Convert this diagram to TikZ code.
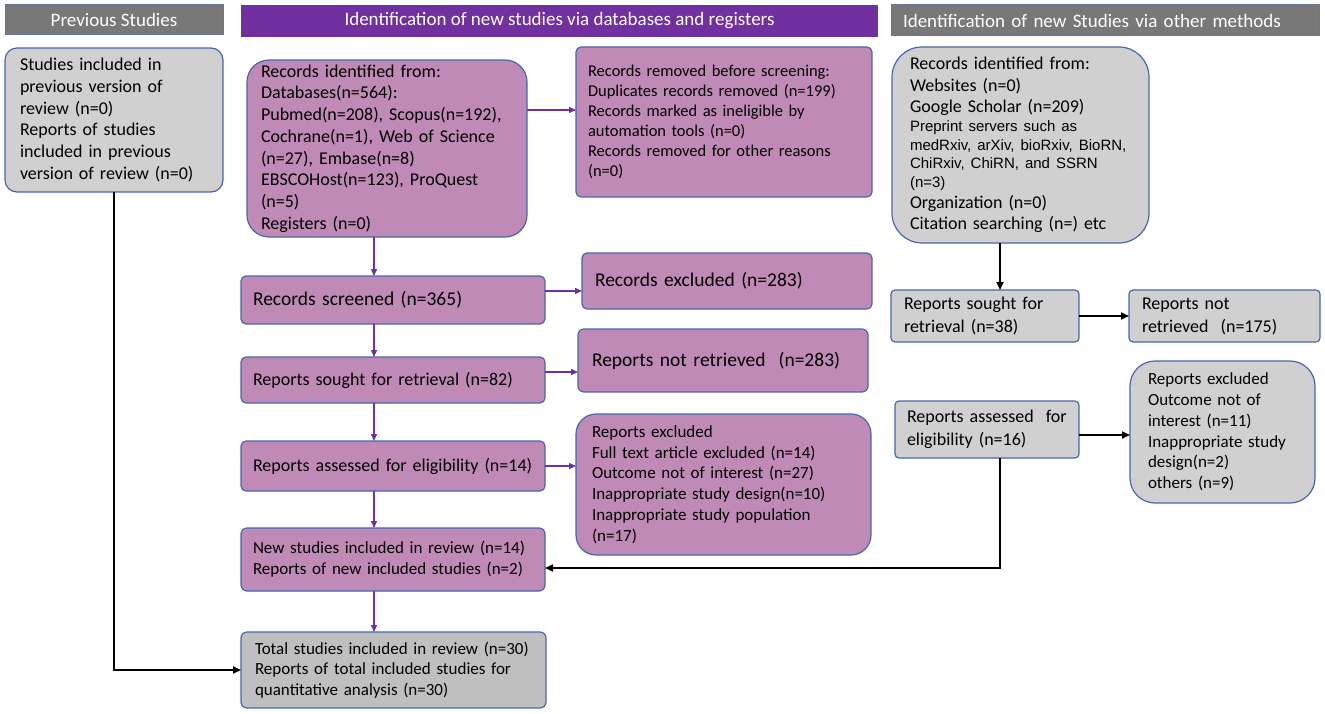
\documentclass[tikz,border=0pt]{standalone}
\usepackage{fontspec}
\setmainfont{Carlito}
\newfontfamily\arialf{Liberation Sans}
\usetikzlibrary{arrows.meta}
\definecolor{pfill}{RGB}{192,138,182}
\definecolor{gfill}{RGB}{208,208,208}
\definecolor{tfill}{RGB}{191,191,191}
\definecolor{hgray}{RGB}{120,120,120}
\definecolor{hpurple}{RGB}{112,48,160}
\definecolor{bord}{RGB}{70,105,170}
\definecolor{hbord}{RGB}{100,120,150}
\definecolor{parr}{RGB}{112,48,160}
\newcommand\myfs[2]{\fontsize{#1}{#2}\selectfont}
\begin{document}
\begin{tikzpicture}[x=1pt,y=-1pt,
  base/.style={anchor=north west, inner ysep=0pt, outer sep=0pt, line width=1.2pt, draw=bord, align=left},
  pbox/.style={base, fill=pfill},
  gbox/.style={base, fill=gfill},
  hbox/.style={anchor=north west, inner ysep=0pt, outer sep=0pt, text=white, font={\myfs{19}{22}}},
  parrow/.style={draw=parr, line width=1.4pt, -{Triangle[length=7pt,width=6pt]}},
  barrow/.style={draw=black, line width=1.8pt, -{Triangle[length=8pt,width=7pt]}}
]
\useasboundingbox (0,0) rectangle (1325,714);
\fill[white] (0,0) rectangle (1325,714);

% headers
\node[hbox, fill=hgray, draw=hbord, line width=1pt, minimum width=218pt, minimum height=30pt, inner xsep=0pt, align=center] (h1) at (5,5) {Previous Studies};
\node[hbox, fill=hpurple, minimum width=637pt, minimum height=32pt, inner xsep=0pt, align=center] (h2) at (241,5) {Identification of new studies via databases and registers};
\node[hbox, fill=hgray, draw=hbord, line width=1pt, text width=404pt, inner xsep=12pt, minimum height=31pt, align=left] (h3) at (891,5) {Identification of new Studies via other methods};

% left column
\node[gbox, rounded corners=12pt, inner xsep=15pt, text width=188pt, minimum height=144pt, font={\myfs{18}{21.8}}] (prev) at (5,48)
  {Studies included in\\previous version of\\review (n=0)\\Reports of studies\\included in previous\\version of review (n=0)};

% middle column
\node[pbox, rounded corners=22pt, inner xsep=14pt, text width=252pt, minimum height=177pt, font={\myfs{18}{21.7}}] (rid) at (247,60)
  {Records identified from:\\Databases(n=564):\\Pubmed(n=208), Scopus(n=192),\\Cochrane(n=1), Web of Science\\(n=27), Embase(n=8)\\EBSCOHost(n=123), ProQuest\\(n=5)\\Registers (n=0)};
\node[pbox, rounded corners=5pt, inner xsep=12pt, text width=272pt, minimum height=150pt, font={\myfs{16.5}{20}}] (removed) at (576,47)
  {Records removed before screening:\\Duplicates records removed (n=199)\\Records marked as ineligible by\\automation tools (n=0)\\Records removed for other reasons\\(n=0)};
\node[pbox, rounded corners=5pt, inner xsep=12pt, text width=280pt, minimum height=48pt, font={\myfs{19.5}{23}}] (screened) at (241,276)
  {Records screened (n=365)};
\node[pbox, rounded corners=5pt, inner xsep=13pt, text width=264pt, minimum height=56pt, font={\myfs{19.5}{23}}] (excl) at (582,253)
  {Records excluded (n=283)};
\node[pbox, rounded corners=5pt, inner xsep=12pt, text width=280pt, minimum height=46pt, font={\myfs{18}{21.5}}] (sought) at (241,357)
  {Reports sought for retrieval (n=82)};
\node[pbox, rounded corners=6pt, inner xsep=14pt, text width=262pt, minimum height=63pt, font={\myfs{19.5}{23}}] (notret) at (578,329)
  {Reports not retrieved~ (n=283)};
\node[pbox, rounded corners=5pt, inner xsep=12pt, text width=280pt, minimum height=50pt, font={\myfs{18}{21.5}}] (assessed) at (241,441)
  {Reports assessed for eligibility (n=14)};
\node[pbox, rounded corners=20pt, inner xsep=16pt, text width=263pt, minimum height=141pt, font={\myfs{17}{20.8}}] (repexcl) at (576,414)
  {Reports excluded\\Full text article excluded (n=14)\\Outcome not of interest (n=27)\\Inappropriate study design(n=10)\\Inappropriate study population\\(n=17)};
\node[pbox, rounded corners=6pt, inner xsep=12pt, text width=280pt, minimum height=63pt, font={\myfs{17}{21}}] (newst) at (241,528)
  {New studies included in review (n=14)\\Reports of new included studies (n=2)};
\node[base, fill=tfill, rounded corners=6pt, inner xsep=14pt, text width=277pt, minimum height=76pt, font={\myfs{17}{20.5}}] (total) at (241,632)
  {Total studies included in review (n=30)\\Reports of total included studies for\\quantitative analysis (n=30)};

% right column
\node[gbox, rounded corners=30pt, inner xsep=18pt, text width=221pt, minimum height=196pt, font={\myfs{18}{21}}] (other) at (892,47)
  {{\myfs{18}{21.5}Records identified from:\\Websites (n=0)\\Google Scholar (n=209)\par}%
   {\arialf\myfs{15}{18.7}Preprint servers such as\\medRxiv, arXiv, bioRxiv, BioRN,\\ChiRxiv, ChiRN, and SSRN\\(n=3)\par}%
   {\myfs{18}{21}Organization (n=0)\\Citation searching (n=) etc\par}};
\node[gbox, rounded corners=4pt, inner xsep=13pt, text width=162pt, minimum height=52pt, font={\myfs{18}{23}}] (sought2) at (891,290)
  {Reports sought for\\retrieval (n=38)};
\node[gbox, rounded corners=4pt, inner xsep=13pt, text width=165pt, minimum height=52pt, font={\myfs{18}{23}}] (notret2) at (1129,290)
  {Reports not\\retrieved~ (n=175)};
\node[gbox, rounded corners=4pt, inner xsep=12pt, text width=160pt, minimum height=57pt, font={\myfs{18}{23}}] (assessed2) at (895,401)
  {Reports assessed~ for\\eligibility (n=16)};
\node[gbox, rounded corners=25pt, inner xsep=18pt, text width=149pt, minimum height=142pt, font={\myfs{17}{20.8}}] (repexcl2) at (1130,361)
  {Reports excluded\\Outcome not of\\interest (n=11)\\Inappropriate study\\design(n=2)\\others (n=9)};

% helper coordinates
\coordinate (cx) at (374,0);
\coordinate (ox) at (1000,0);
\coordinate (ya) at (0,110);
\coordinate (yb) at (0,291);
\coordinate (yc) at (0,372);
\coordinate (yd) at (0,466);
\coordinate (ye) at (0,435);
\coordinate (yf) at (0,568);

% purple connectors
\draw[parrow] (rid.east |- ya) -- (removed.west |- ya);
\draw[parrow] (rid.south -| cx) -- (screened.north -| cx);
\draw[parrow] (screened.east |- yb) -- (excl.west |- yb);
\draw[parrow] (screened.south -| cx) -- (sought.north -| cx);
\draw[parrow] (sought.east |- yc) -- (notret.west |- yc);
\draw[parrow] (sought.south -| cx) -- (assessed.north -| cx);
\draw[parrow] (assessed.east |- yd) -- (repexcl.west |- yd);
\draw[parrow] (assessed.south -| cx) -- (newst.north -| cx);
\draw[parrow] (newst.south -| cx) -- (total.north -| cx);

% black connectors
\draw[barrow] (prev.south) |- (total.west);
\draw[barrow] (other.south -| ox) -- (sought2.north -| ox);
\draw[barrow] (sought2.east) -- (notret2.west);
\draw[barrow] (assessed2.east |- ye) -- (repexcl2.west |- ye);
\draw[barrow] (assessed2.south -| ox) |- (newst.east |- yf);
\end{tikzpicture}
\end{document}
